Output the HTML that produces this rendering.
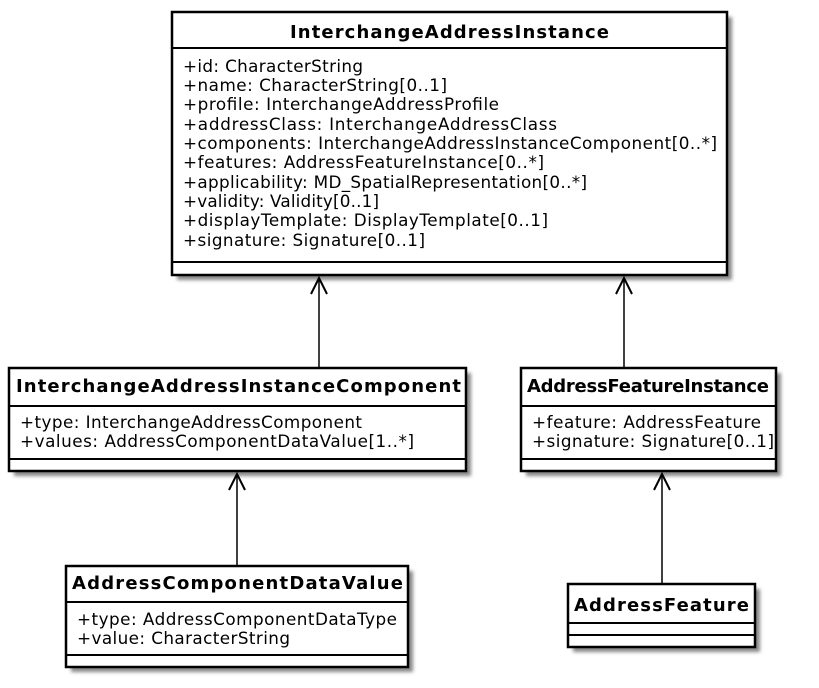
<!DOCTYPE html>
<html><head><style>body{margin:0;background:#fff}text{font-family:"DejaVu Sans","Liberation Sans",sans-serif;fill:#000}.t{font-weight:bold;font-size:18px}.a{font-size:16.8px}</style></head><body>
<svg width="819" height="683" xmlns="http://www.w3.org/2000/svg">
<defs><filter id="s" x="-10%" y="-10%" width="130%" height="130%"><feGaussianBlur stdDeviation="1.8"/></filter></defs>
<g fill="#888" filter="url(#s)">
<rect x="177" y="17" width="555" height="263"/>
<rect x="14" y="373" width="457" height="103"/>
<rect x="526" y="373" width="255" height="103"/>
<rect x="71" y="571" width="342" height="101"/>
<rect x="573" y="589" width="187" height="63"/>
</g>
<g fill="#fff" stroke="#000" stroke-width="2.5">
<rect x="172" y="12" width="555" height="263"/>
<rect x="9" y="368" width="457" height="103"/>
<rect x="521" y="368" width="255" height="103"/>
<rect x="66" y="566" width="342" height="101"/>
<rect x="568" y="584" width="187" height="63"/>
</g>
<g stroke="#000" stroke-width="2">
<line x1="172" y1="48" x2="727" y2="48"/><line x1="172" y1="262" x2="727" y2="262"/>
<line x1="9" y1="406" x2="466" y2="406"/><line x1="9" y1="459" x2="466" y2="459"/>
<line x1="521" y1="406" x2="776" y2="406"/><line x1="521" y1="459" x2="776" y2="459"/>
<line x1="66" y1="602" x2="408" y2="602"/><line x1="66" y1="655" x2="408" y2="655"/>
<line x1="568" y1="623" x2="755" y2="623"/><line x1="568" y1="635" x2="755" y2="635"/>
</g>
<g stroke="#000" stroke-width="1.5">
<line x1="319" y1="368" x2="319" y2="278"/><line x1="624" y1="368" x2="624" y2="278"/>
<line x1="237" y1="566" x2="237" y2="474"/><line x1="662" y1="584" x2="662" y2="474"/>
</g>
<g fill="none" stroke="#000" stroke-width="2">
<polyline points="311,294 319,278 327,294"/><polyline points="616,294 624,278 632,294"/>
<polyline points="229,490 237,474 245,490"/><polyline points="654,490 662,474 670,490"/>
</g>
<text class="t" x="290" y="38" textLength="319" lengthAdjust="spacing">InterchangeAddressInstance</text>
<text class="a" x="183" y="72" textLength="180" lengthAdjust="spacing">+id: CharacterString</text>
<text class="a" x="183" y="91" textLength="264" lengthAdjust="spacing">+name: CharacterString[0..1]</text>
<text class="a" x="183" y="110" textLength="316" lengthAdjust="spacing">+profile: InterchangeAddressProfile</text>
<text class="a" x="183" y="130" textLength="374" lengthAdjust="spacing">+addressClass: InterchangeAddressClass</text>
<text class="a" x="183" y="149" textLength="534" lengthAdjust="spacing">+components: InterchangeAddressInstanceComponent[0..*]</text>
<text class="a" x="183" y="168" textLength="361" lengthAdjust="spacing">+features: AddressFeatureInstance[0..*]</text>
<text class="a" x="183" y="188" textLength="404" lengthAdjust="spacing">+applicability: MD_SpatialRepresentation[0..*]</text>
<text class="a" x="183" y="207" textLength="196" lengthAdjust="spacing">+validity: Validity[0..1]</text>
<text class="a" x="183" y="226" textLength="365" lengthAdjust="spacing">+displayTemplate: DisplayTemplate[0..1]</text>
<text class="a" x="183" y="246" textLength="242" lengthAdjust="spacing">+signature: Signature[0..1]</text>
<text class="t" x="16" y="392" textLength="445" lengthAdjust="spacing">InterchangeAddressInstanceComponent</text>
<text class="a" x="20" y="428" textLength="342" lengthAdjust="spacing">+type: InterchangeAddressComponent</text>
<text class="a" x="20" y="447" textLength="394" lengthAdjust="spacing">+values: AddressComponentDataValue[1..*]</text>
<text class="t" x="527" y="392" textLength="242" lengthAdjust="spacing">AddressFeatureInstance</text>
<text class="a" x="532" y="428" textLength="229" lengthAdjust="spacing">+feature: AddressFeature</text>
<text class="a" x="532" y="447" textLength="242" lengthAdjust="spacing">+signature: Signature[0..1]</text>
<text class="t" x="72" y="589" textLength="331" lengthAdjust="spacing">AddressComponentDataValue</text>
<text class="a" x="77" y="625" textLength="320" lengthAdjust="spacing">+type: AddressComponentDataType</text>
<text class="a" x="77" y="644" textLength="213" lengthAdjust="spacing">+value: CharacterString</text>
<text class="t" x="574" y="611" textLength="175" lengthAdjust="spacing">AddressFeature</text>
</svg>
</body></html>
